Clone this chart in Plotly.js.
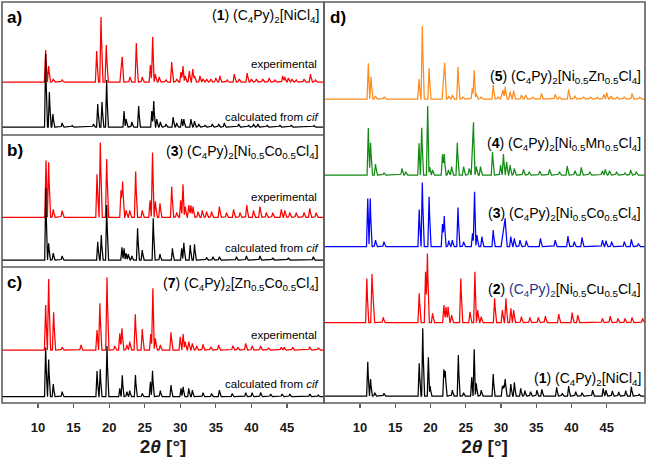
<!DOCTYPE html>
<html><head><meta charset="utf-8">
<script src="https://cdn.plot.ly/plotly-3.0.1.min.js"></script>
<style>html,body{margin:0;padding:0;background:#fff}#chart{width:648px;height:459px}</style>
</head><body><div id="chart"></div>
<script>
// ---------- DATA: peak positions (2theta, deg) and intensities (arb. units) ----------
// Panel a: (1) (C4Py)2[NiCl4]
const aExpPos = [11.08,11.5,12.15,13.4,18.25,18.86,19.6,21.7,21.85,22.93,23.82,24.66,25.8,26.12,26.5,27.05,28.0,28.8,29.5,30.1,30.38,30.7,31.27,31.75,32.0,32.77,33.2,33.7,34.3,35.0,35.58,36.6,37.6,38.3,39.4,40.0,40.7,41.6,42.5,43.3,44.4,44.7,45.2,45.7,46.3,47.4,48.3,49.0];
const aExpInt = [32,16,3,2,31,65,37,18,22,5,39,5,17,45,8,5,2,20,3,10,16,6,11,13,6,6,3,3,3,4,6,2,8,3,9,3,3,3,4,2,6,5,4,3,2,3,8,2];
const aCalPos = [11.08,11.6,12.1,13.4,14.8,17.8,18.4,19.0,19.65,22.1,22.4,23.2,24.15,26.0,26.27,26.7,27.2,28.0,29.0,29.5,30.2,30.5,31.5,32.0,32.6,33.5,34.5,35.4,36.2,38.2,39.6,40.3,40.9,42.2,44.0,45.6,48.8];
const aCalInt = [73,35,13,4,1.5,3,23,25,47,16,8,5,21,16,26,8,5,3,10,4,8,8,8,6,3,2,3,3,4,3,2,3,3,2,2,2,1.5];
// Panel b: (3) (C4Py)2[Ni0.5Co0.5Cl4]
const bExpPos = [11.13,11.5,12.15,13.4,18.3,18.76,19.66,21.67,21.9,22.4,22.9,23.73,24.66,25.75,26.1,26.5,27.15,28.8,29.5,30.06,30.38,30.7,31.2,31.5,31.8,32.5,33.1,33.7,34.4,35.5,36.5,37.5,38.4,39.35,40.3,41.2,42.1,43.0,44.2,44.7,45.4,46.3,47.4,48.2,49.1];
const bExpInt = [56.7,55,8,6.7,43,74.7,58.3,27,35.7,7,7,45.7,7,17,64.7,16,14,30.7,5,17,33,10.7,12.3,12,10.7,5.7,7,5.7,5.7,10.7,4.7,8,4.7,12.3,7,10.7,5,4.7,8,7,5,4.7,5,9,4.7];
const bCalPos = [11.1,11.5,12.15,13.4,18.4,18.9,19.66,21.8,22.1,22.4,22.7,23.2,24.0,24.66,26.2,27.15,28.9,30.2,30.5,31.4,32.0,33.7,34.6,35.5,37.9,39.3,41.2,43.0,45.2,48.7];
const bCalInt = [71.7,16.7,7,4,18.3,25,55,12.7,11.7,6.7,6,4,31.7,10,41.7,6,11.7,11.7,17.3,15,15.7,2.7,3.3,3.3,3.3,4,4,2.3,2.3,3.3];
// Panel c: (7) (C4Py)2[Zn0.5Co0.5Cl4]
const cExpPos = [11.08,11.5,12.2,13.4,16.05,18.3,18.7,19.7,20.8,21.5,21.8,22.5,22.9,23.68,24.66,25.85,26.15,26.5,27.2,28.7,30.0,30.4,30.7,31.2,31.7,32.3,33.2,34.3,35.4,37.4,38.1,39.2,40.1,41.3,42.4,44.2,44.6,45.8,48.2,49.4];
const cExpInt = [45,71,37.7,2.7,5,20,46.7,72.7,4,16.7,21.7,5,8.3,35.7,21,16,61.7,11.7,5,17.7,13.3,16,8.3,8.3,6.7,4,5.7,3.3,5,4.3,2.7,6.7,4,4,2.3,2.7,2.7,2.7,3.3,2.3];
const cCalPos = [11.08,11.5,12.15,13.4,18.3,18.75,19.7,21.5,21.85,22.5,22.9,23.7,24.66,25.8,26.1,27.2,28.7,30.1,30.4,31.2,31.7,33.2,34.4,35.5,37.3,39.2,40.1,41.3,42.7,44.3,45.4,48.2,49.4];
const cCalInt = [49.3,37.3,12.7,5,25.7,27.3,50.7,8.3,21.3,5,6,21.7,3.3,15,26,6,11.7,8.3,10,8.3,6.7,4,3.3,6.7,3.3,4,4,4.3,2.7,2.7,2.7,2.7,1.7];
// Panel d
const d5Pos = [11.18,11.56,12.2,13.45,18.37,18.84,19.8,21.82,22.0,22.6,23.1,23.9,24.6,25.93,26.2,26.5,27.2,28.9,29.6,30.1,30.3,30.6,31.3,31.8,32.9,33.5,34.5,35.75,37.7,38.3,39.6,40.5,41.7,42.7,43.7,44.6,45.0,45.6,46.5,47.5,48.6,49.7];
const d5Int = [35.7,22.3,3,2.3,20,73,30.7,14,36.3,3,4,32.3,2.3,10.7,29,5.7,2.3,14,2.3,5.7,9,12.3,7.3,8.3,4,4,2.3,5.7,4.7,2.3,9.7,3.3,2.3,2.3,1.7,4.7,6.3,3,2.3,2.3,5.7,1.7];
const d4Pos = [11.18,11.5,12.2,13.4,15.96,16.5,18.37,18.75,19.6,19.9,20.3,21.7,21.95,22.55,23.0,23.8,24.7,25.5,25.95,26.1,26.5,27.1,28.8,29.95,30.35,30.8,31.3,31.9,33.2,34.0,35.5,36.9,38.3,39.4,40.5,41.4,42.6,44.4,44.8,45.4,46.4,47.6,48.4,49.2];
const d4Int = [47,32.3,11,2.3,6.7,3.3,31.7,47.3,69,8,5,20.7,21,5,8.3,32.3,8.3,6.7,21,49.3,8.3,8.3,23.3,10,21,13.3,10,6.7,5.7,3.3,4,5.7,3.3,9,4.3,7.7,3.3,4.3,5.7,4.3,3.3,2.3,5,3.3];
const d3Pos = [11.1,11.45,12.2,13.4,18.4,18.84,19.8,21.7,21.95,22.6,23.1,23.9,24.7,25.96,26.25,26.6,27.3,28.9,30.2,30.4,30.6,31.4,31.9,32.7,33.6,35.6,37.7,39.5,40.4,41.5,44.4,44.9,45.7,47.5,48.5,49.5];
const d3Int = [48.3,48.3,6.7,5,37.3,64.3,50,22.7,30.7,6,6.7,39.3,5,13.3,55,11.7,10,16.7,13.3,20,28.3,10,8.3,6.7,6,8.3,6.7,10.7,5,9.3,6.7,6,5,5,7.3,3.3];
const d2Pos = [10.97,11.7,11.9,13.3,18.4,19.3,19.56,20.3,21.9,22.2,22.5,23.0,24.3,25.6,26.3,26.7,27.2,29.1,30.2,30.7,31.4,31.8,32.9,34.1,35.3,36.3,38.2,40.1,40.9,44.4,45.5,46.6,47.6,48.6,50.1];
const d2Int = [44.3,48.7,19,5.3,29.3,51,69.3,9.3,17.7,16,16,7.7,44.3,11,51,12.7,6,24.3,12.7,24.3,14.3,12.7,6,5.3,5.3,6.7,8.7,10,7.7,4.3,6.7,4.3,4.3,5.3,4.3];
const d1Pos = [11.1,11.5,12.1,13.4,18.4,18.9,19.7,19.95,21.9,22.1,23.1,23.95,24.7,25.85,26.2,26.5,27.2,28.9,30.2,30.4,30.6,31.4,31.9,32.8,33.4,34.2,35.1,35.8,37.9,38.7,39.6,40.6,41.5,43.0,44.5,44.9,45.8,46.7,47.7,48.5,49.6];
const d1Int = [34.3,17,3.3,2.7,32.7,67.7,38.7,10,26.7,25,6,41,3.3,18.7,46.7,12.7,6,22,10,11,17,12,13.7,7.7,5.3,4.3,6,6.7,8.7,2.7,10,4.3,3.3,6,7.7,6,5,4,5.3,9.3,2];

const xTicks = [10,15,20,25,30,35,40,45];

// ---------- LAYOUT GEOMETRY ----------
const W = 648, H = 459;
const PL = 2, PR = 645, PT = 2, PB = 403;          // plot area in px
const pw = PR - PL, ph = PB - PT;
const px2x = p => (p - PL) / pw;
const py2y = p => (PB - p) / ph;
const splitX = 324;

// profile builder: sum of narrow triangular peaks sampled on a grid (plus exact peak positions)
function buildTrace(pos, inten, base, color, xa, ya, w) {
  const grid = [];
  for (let i = 0; i <= 2280; i++) grid.push(+(4.8 + i * 0.02).toFixed(3));
  pos.forEach(p => grid.push(p));
  grid.sort((a, b) => a - b);
  const ys = grid.map(t => {
    let s = 0;
    for (let k = 0; k < pos.length; k++) {
      const d = Math.abs(t - pos[k]);
      if (d < w) s += inten[k] * (1 - d / w);
    }
    return s + base;
  });
  return {x: grid, y: ys, type: 'scatter', mode: 'lines', xaxis: xa, yaxis: ya,
          line: {color: color, width: 1.25}, hoverinfo: 'skip', showlegend: false};
}

const traces = [
  buildTrace(aExpPos, aExpInt, PB - 82, '#ff0000', 'x', 'y', 0.18),
  buildTrace(aCalPos, aCalInt, PB - 127, '#000000', 'x', 'y', 0.16),
  buildTrace(bExpPos, bExpInt, PB - 217.3, '#ff0000', 'x', 'y', 0.18),
  buildTrace(bCalPos, bCalInt, PB - 260, '#000000', 'x', 'y', 0.16),
  buildTrace(cExpPos, cExpInt, PB - 350, '#ff0000', 'x', 'y', 0.18),
  buildTrace(cCalPos, cCalInt, PB - 396.7, '#000000', 'x', 'y', 0.16),
  buildTrace(d5Pos, d5Int, PB - 99, '#ff8c1a', 'x2', 'y2', 0.18),
  buildTrace(d4Pos, d4Int, PB - 175, '#138a13', 'x2', 'y2', 0.18),
  buildTrace(d3Pos, d3Int, PB - 246.7, '#0000ff', 'x2', 'y2', 0.18),
  buildTrace(d2Pos, d2Int, PB - 322.7, '#ff0000', 'x2', 'y2', 0.18),
  buildTrace(d1Pos, d1Int, PB - 396, '#000000', 'x2', 'y2', 0.16)
];

const FONT = 'Liberation Sans, Arial, Helvetica, sans-serif';
const frameC = '#5e5e5e';
const shapes = [
  {type:'rect', xref:'paper', yref:'paper', x0:px2x(PL), x1:px2x(splitX), y0:py2y(PB), y1:py2y(PT), line:{color:frameC, width:1.6}},
  {type:'rect', xref:'paper', yref:'paper', x0:px2x(splitX), x1:px2x(PR), y0:py2y(PB), y1:py2y(PT), line:{color:frameC, width:1.6}},
  {type:'line', xref:'paper', yref:'paper', x0:px2x(PL), x1:px2x(splitX), y0:py2y(135), y1:py2y(135), line:{color:frameC, width:1.6}},
  {type:'line', xref:'paper', yref:'paper', x0:px2x(PL), x1:px2x(splitX), y0:py2y(267), y1:py2y(267), line:{color:frameC, width:1.6}}
];

function ann(text, px, py, xanchor, size, color) {
  return {text: text, xref:'paper', yref:'paper', x: px2x(px), y: py2y(py), xanchor: xanchor,
          yanchor:'middle', showarrow:false, font:{family:FONT, size:size, color: color || '#000'}};
}
const annotations = [
  ann('<b>a)</b>', 5, 17, 'left', 17),
  ann('<b>b)</b>', 5, 150, 'left', 17),
  ann('<b>c)</b>', 5, 282, 'left', 17),
  ann('<b>d)</b>', 328, 18, 'left', 17),
  ann('(<b>1</b>) (C<sub>4</sub>Py)<sub>2</sub>[NiCl<sub>4</sub>]', 321, 16, 'right', 14),
  ann('(<b>3</b>) (C<sub>4</sub>Py)<sub>2</sub>[Ni<sub>0.5</sub>Co<sub>0.5</sub>Cl<sub>4</sub>]', 321, 152, 'right', 14),
  ann('(<b>7</b>) (C<sub>4</sub>Py)<sub>2</sub>[Zn<sub>0.5</sub>Co<sub>0.5</sub>Cl<sub>4</sub>]', 321, 284, 'right', 14),
  ann('experimental', 319, 64, 'right', 11.5),
  ann('calculated from <i>cif</i>', 321, 117, 'right', 11.5),
  ann('experimental', 319, 197, 'right', 11.5),
  ann('calculated from <i>cif</i>', 321, 248, 'right', 11.5),
  ann('experimental', 319, 335, 'right', 11.5),
  ann('calculated from <i>cif</i>', 321, 384, 'right', 11.5),
  ann('(<b>5</b>) (C<sub>4</sub>Py)<sub>2</sub>[Ni<sub>0.5</sub>Zn<sub>0.5</sub>Cl<sub>4</sub>]', 643, 77, 'right', 14),
  ann('(<b>4</b>) (C<sub>4</sub>Py)<sub>2</sub>[Ni<sub>0.5</sub>Mn<sub>0.5</sub>Cl<sub>4</sub>]', 643, 144, 'right', 14),
  ann('(<b>3</b>) (C<sub>4</sub>Py)<sub>2</sub>[Ni<sub>0.5</sub>Co<sub>0.5</sub>Cl<sub>4</sub>]', 643, 214, 'right', 14),
  ann('(<b>2</b>) <span style="color:#1f2f86">(C<sub>4</sub>Py)<sub>2</sub></span>[Ni<sub>0.5</sub>Cu<sub>0.5</sub>Cl<sub>4</sub>]', 643, 290, 'right', 14),
  ann('(<b>1</b>) (C<sub>4</sub>Py)<sub>2</sub>[NiCl<sub>4</sub>]', 643, 379, 'right', 14)
];

const xCommon = {
  tickmode:'array', tickvals:xTicks, ticktext:xTicks.map(v => '<b>' + v + '</b>'),
  ticks:'outside', ticklen:4, tickwidth:1.2, tickcolor:frameC,
  ticklabelstandoff: 8,
  showgrid:false, zeroline:false, showline:false, fixedrange:true,
  tickfont:{family:FONT, size:13, color:'#1a1a1a'},
  title:{text:'<b>2<i>θ</i> [°]</b>', font:{family:FONT, size:19, color:'#1a1a1a'}, standoff:6}
};
const layout = {
  width: W, height: H, paper_bgcolor:'#fff', plot_bgcolor:'rgba(0,0,0,0)',
  margin:{l:PL, r:W-PR, t:PT, b:H-PB},
  showlegend:false,
  xaxis: Object.assign({}, xCommon, {domain:[0, px2x(splitX)], range:[4.94, 50.2], anchor:'y'}),
  xaxis2: Object.assign({}, xCommon, {domain:[px2x(splitX), 1], range:[4.89, 50.43], anchor:'y2'}),
  yaxis: {domain:[0,1], range:[0, ph], visible:false, fixedrange:true, anchor:'x'},
  yaxis2: {domain:[0,1], range:[0, ph], visible:false, fixedrange:true, anchor:'x2'},
  shapes: shapes,
  annotations: annotations
};
Plotly.newPlot('chart', traces, layout, {displayModeBar:false, staticPlot:true});
</script>
</body></html>
